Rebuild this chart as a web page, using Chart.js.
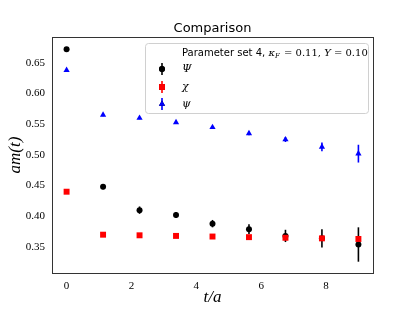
<!DOCTYPE html>
<html>
<head>
<meta charset="utf-8">
<script src="https://cdn.jsdelivr.net/npm/chart.js@4/dist/chart.umd.min.js"></script>
<style>
  html, body { margin: 0; padding: 0; background: #fff; }
  #wrap { width: 415px; height: 312px; }
</style>
</head>
<body>
<div id="wrap"><canvas id="chart" width="415" height="312"></canvas></div>
<script>
// time slices t/a
const tValues = [0, 1.125, 2.25, 3.375, 4.5, 5.625, 6.75, 7.875, 9];

// Psi (black circles)
const bigPsi = [0.672, 0.448, 0.410, 0.402, 0.388, 0.379, 0.368, 0.364, 0.354];
const bigPsiErr = [0.002, 0.004, 0.006, 0.005, 0.006, 0.008, 0.010, 0.015, 0.028];

// chi (red squares)
const chi = [0.440, 0.370, 0.369, 0.368, 0.367, 0.366, 0.365, 0.364, 0.363];
const chiErr = [0.001, 0.001, 0.001, 0.001, 0.001, 0.001, 0.002, 0.002, 0.002];

// psi (blue triangles)
const smallPsi = [0.638, 0.565, 0.560, 0.553, 0.545, 0.535, 0.525, 0.513, 0.502];
const smallPsiErr = [0.002, 0.002, 0.002, 0.002, 0.002, 0.003, 0.004, 0.007, 0.0145];

const xTicks = [0, 2, 4, 6, 8];
const yTicks = [0.35, 0.40, 0.45, 0.50, 0.55, 0.60, 0.65];

function toPoints(ys, errs) {
    return tValues.map((t, i) => ({ x: t, y: ys[i], err: errs[i] }));
}

// error bars under the markers
const errorBars = {
    id: 'errorBars',
    beforeDatasetsDraw(chart) {
        const ctx = chart.ctx;
        const xs = chart.scales.x, ys = chart.scales.y;
        chart.data.datasets.forEach(ds => {
            ctx.save();
            ctx.strokeStyle = ds.borderColor;
            ctx.lineWidth = 1.6;
            ds.data.forEach(p => {
                const px = xs.getPixelForValue(p.x);
                ctx.beginPath();
                ctx.moveTo(px, ys.getPixelForValue(p.y - p.err));
                ctx.lineTo(px, ys.getPixelForValue(p.y + p.err));
                ctx.stroke();
            });
            ctx.restore();
        });
    }
};

// full box frame + legend box + titles
const frameAndLegend = {
    id: 'frameAndLegend',
    afterDraw(chart) {
        const ctx = chart.ctx;
        const a = chart.chartArea;
        ctx.save();
        ctx.strokeStyle = '#333';
        ctx.lineWidth = 1;
        ctx.strokeRect(a.left + 0.5, a.top + 0.5, a.right - a.left, a.bottom - a.top);

        // title
        ctx.fillStyle = '#000';
        ctx.textAlign = 'center';
        ctx.textBaseline = 'middle';
        ctx.font = '13px "DejaVu Sans"';
        ctx.fillText('Comparison', (a.left + a.right) / 2, 29);

        // legend
        const lx = 145, ly = 43, lw = 223, lh = 70;
        ctx.fillStyle = 'rgba(255,255,255,0.8)';
        ctx.strokeStyle = '#d0d0d0';
        ctx.lineWidth = 1;
        ctx.beginPath();
        ctx.roundRect(lx + 0.5, ly + 0.5, lw, lh, 3);
        ctx.fill();
        ctx.stroke();

        ctx.fillStyle = '#000';
        ctx.textAlign = 'left';
        ctx.font = '10px "DejaVu Sans"';
        let x = 182;
        const ty = 53;
        const seg1 = 'Parameter set 4, ';
        ctx.fillText(seg1, x, ty);
        x += ctx.measureText(seg1).width;
        ctx.font = 'italic 10px "DejaVu Serif"';
        ctx.fillText('\u03BA', x, ty);
        x += ctx.measureText('\u03BA').width;
        ctx.font = 'italic 7px "DejaVu Serif"';
        ctx.fillText('F', x, ty + 3);
        x += ctx.measureText('F').width + 1;
        ctx.font = '10px "DejaVu Serif"';
        ctx.fillText(' = 0.11, ', x, ty);
        x += ctx.measureText(' = 0.11, ').width;
        ctx.font = 'italic 10px "DejaVu Serif"';
        ctx.fillText('Y', x, ty);
        x += ctx.measureText('Y').width;
        ctx.font = '10px "DejaVu Serif"';
        ctx.fillText(' = 0.10', x, ty);

        const rows = [69, 87, 104];
        const labels = ['\u03A8', '\u03C7', '\u03C8'];
        chart.data.datasets.forEach((ds, i) => {
            const my = rows[i];
            ctx.strokeStyle = ds.borderColor;
            ctx.lineWidth = 1.6;
            ctx.beginPath();
            ctx.moveTo(162, my - 6);
            ctx.lineTo(162, my + 6);
            ctx.stroke();
            Chart.helpers.drawPoint(ctx, {
                pointStyle: ds.pointStyle,
                radius: ds.pointRadius,
                rotation: 0,
                borderWidth: 0
            }, 162, my);
            ctx.fillStyle = ds.backgroundColor;
            ctx.fill();
            ctx.fillStyle = '#000';
            ctx.font = 'italic 11px "DejaVu Serif"';
            ctx.fillText(labels[i], 182, my);
        });

        // axis titles
        ctx.fillStyle = '#000';
        ctx.textAlign = 'center';
        ctx.font = 'italic 17px "Liberation Serif"';
        ctx.fillText('t/a', (a.left + a.right) / 2, 298);
        ctx.translate(16, (a.top + a.bottom) / 2);
        ctx.rotate(-Math.PI / 2);
        ctx.fillText('am(t)', 0, 0);
        ctx.restore();
    }
};

const tickFont = { family: '"Liberation Serif"', size: 11 };

new Chart(document.getElementById('chart'), {
    type: 'scatter',
    data: {
        datasets: [{
            label: '\u03A8',
            data: toPoints(bigPsi, bigPsiErr),
            order: 3,
            pointStyle: 'circle',
            pointRadius: 3,
            borderColor: '#000000',
            backgroundColor: '#000000',
            borderWidth: 0
        }, {
            label: '\u03C7',
            data: toPoints(chi, chiErr),
            order: 2,
            pointStyle: 'rect',
            pointRadius: 4.2,
            borderColor: '#ff0000',
            backgroundColor: '#ff0000',
            borderWidth: 0
        }, {
            label: '\u03C8',
            data: toPoints(smallPsi, smallPsiErr),
            order: 1,
            pointStyle: 'triangle',
            pointRadius: 3.6,
            borderColor: '#0000ff',
            backgroundColor: '#0000ff',
            borderWidth: 0
        }]
    },
    options: {
        responsive: false,
        animation: false,
        layout: { padding: { left: 0, right: 42, top: 37, bottom: 0 } },
        plugins: {
            legend: { display: false },
            tooltip: { enabled: false },
            title: { display: false }
        },
        scales: {
            x: {
                type: 'linear',
                min: -0.45,
                max: 9.45,
                afterBuildTicks: s => { s.ticks = xTicks.map(v => ({ value: v })); },
                afterFit: s => { s.height = 39; },
                grid: { display: false, drawTicks: true, tickLength: 4, tickColor: '#333' },
                border: { display: true, color: '#333', width: 1 },
                ticks: { color: '#000', font: tickFont, padding: 3, maxRotation: 0 }
            },
            y: {
                type: 'linear',
                min: 0.3076,
                max: 0.692,
                afterBuildTicks: s => { s.ticks = yTicks.map(v => ({ value: v })); },
                afterFit: s => { s.width = 52; },
                grid: { display: false, drawTicks: true, tickLength: 4, tickColor: '#333' },
                border: { display: true, color: '#333', width: 1 },
                ticks: { color: '#000', font: tickFont, padding: 3, callback: v => v.toFixed(2) }
            }
        }
    },
    plugins: [errorBars, frameAndLegend]
});
</script>
</body>
</html>
